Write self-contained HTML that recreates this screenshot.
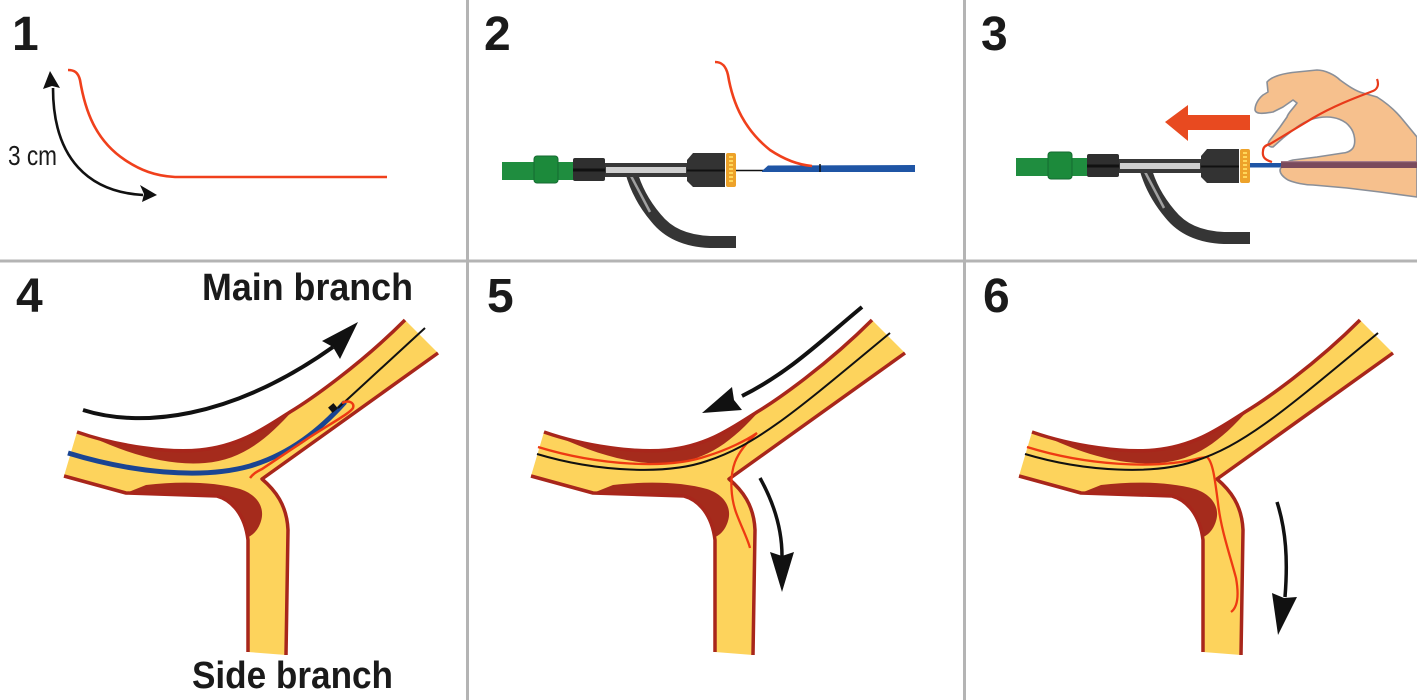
<!DOCTYPE html>
<html><head><meta charset="utf-8"><style>
html,body{margin:0;padding:0;background:#fff;}
svg{display:block;}
</style></head><body>
<svg width="1417" height="700" viewBox="0 0 1417 700" xmlns="http://www.w3.org/2000/svg" xmlns:xlink="http://www.w3.org/1999/xlink">
<defs>
<g id="vessel">
  <path fill="#fdd35c" d="M77,432 C120,447 170,453 200,450 C240,446 265,428 290,412 C310,400 360,365 405,320 L438,353 L262,479 C275,490 287,505 288,530 L286,655 L248,652 L248,540 C245,515 232,500 217,496 L126,493 L64,476 Z"/>
  <path fill="#a52b1c" d="M92,437 C130,455 170,466 205,463 C240,460 265,442 294,409 L290,412 C265,428 240,446 200,450 C170,453 125,448 92,437 Z"/>
  <path fill="#a52b1c" d="M126,493 L146,485 C180,481 215,482 240,489 C258,495 265,508 261,521 C258,531 252,536 246,538 L248,538 C245,515 232,500 217,496 Z"/>
  <g fill="none" stroke="#a8261b" stroke-width="3.5" stroke-linejoin="round">
    <path d="M77,432 C120,447 170,453 200,450 C240,446 265,428 290,412 C310,400 360,365 405,320"/>
    <path d="M438,353 L262,479 C275,490 287,505 288,530 L286,655"/>
    <path d="M64,476 L126,493 L217,496 C232,500 245,515 248,540 L248,652"/>
  </g>
</g>
<g id="dev">
  <path d="M631,171 C636,190 645,205 656,218 C668,233 685,241 710,242 L736,242" stroke="#353535" stroke-width="12" fill="none"/>
  <path d="M630,174 L650,212" stroke="#a0a0a0" stroke-width="2.5" fill="none"/>
  <rect x="502" y="162" width="73" height="18" fill="#1f8d3f"/>
  <rect x="534" y="156" width="24" height="27" rx="3" fill="#1c8a3b" stroke="#156a30" stroke-width="1"/>
  <rect x="604" y="163" width="84" height="14" fill="#383838"/>
  <rect x="606" y="167" width="80" height="6" fill="#cfcfcf"/>
  <rect x="573" y="158" width="32" height="23" rx="2" fill="#2f2f2f"/>
  <rect x="573" y="168.5" width="32" height="3" fill="#111"/>
  <path d="M687,160 L693,153 L725,153 L725,187 L693,187 L687,181 Z" fill="#333"/>
  <rect x="687" y="169.5" width="38" height="2" fill="#111"/>
  <rect x="726" y="153" width="10" height="34" rx="2" fill="#eda22a"/>
  <g fill="#ffd75a">
    <rect x="729" y="156" width="4" height="2"/><rect x="729" y="160" width="4" height="2"/>
    <rect x="729" y="164" width="4" height="2"/><rect x="729" y="168" width="4" height="2"/>
    <rect x="729" y="172" width="4" height="2"/><rect x="729" y="176" width="4" height="2"/>
    <rect x="729" y="180" width="4" height="2"/>
  </g>
</g>
</defs>

<!-- grid -->
<rect x="466" y="0" width="3" height="700" fill="#b4b4b4"/>
<rect x="963" y="0" width="3" height="700" fill="#b4b4b4"/>
<rect x="0" y="259.5" width="1417" height="3" fill="#b4b4b4"/>

<!-- numbers -->
<g font-family="'Liberation Sans', Arial, sans-serif" font-weight="bold" font-size="48" fill="#1a1a1a">
  <text x="12" y="50">1</text>
  <text x="484" y="50">2</text>
  <text x="981" y="50">3</text>
  <text x="16" y="312">4</text>
  <text x="487" y="312">5</text>
  <text x="983" y="312">6</text>
</g>

<!-- panel 1 -->
<path d="M68,70 C74,70 78,72 80,80 C85,110 95,140 125,160 C140,170 155,176 175,177 L387,177" fill="none" stroke="#f0401c" stroke-width="2.6"/>
<path d="M53,88 C53,160 90,192 143,195" fill="none" stroke="#111" stroke-width="2.6"/>
<polygon points="50,71 60,88 52,86 43,89" fill="#111"/>
<polygon points="157,195 142,202 144,194 140,185" fill="#111"/>
<text x="8" y="165" font-family="'Liberation Sans Narrow','Liberation Sans',sans-serif" font-size="28" fill="#1a1a1a" textLength="49" lengthAdjust="spacingAndGlyphs">3 cm</text>

<!-- panel 2 -->
<use xlink:href="#dev"/>
<line x1="736" y1="170.5" x2="764" y2="170.5" stroke="#111" stroke-width="1.5"/>
<path d="M762,171 L768,165.5 L915,165 L915,172 L762,172 Z" fill="#1f55a5"/>
<line x1="820" y1="164" x2="820" y2="172" stroke="#111" stroke-width="1.5"/>
<path d="M715,62 C722,62 726,66 728,75 C733,105 745,130 770,150 C785,160 800,165 812,166" fill="none" stroke="#f0401c" stroke-width="2.6"/>

<!-- panel 3 -->
<g transform="translate(514,-4)"><use xlink:href="#dev"/></g>
<rect x="1250" y="163" width="35" height="4.5" fill="#1f55a5"/>
<rect x="1188" y="115" width="62" height="15" fill="#e84a20"/>
<polygon points="1165,122 1188,105 1188,141" fill="#e84a20"/>
<path d="M1417,137 L1403,120 C1395,110 1385,102 1377,97 L1363,93 C1355,91 1347,85 1340,80 C1335,75 1325,70 1317,70 L1297,72 C1285,73 1272,76 1267,82 L1268,92 L1263,95 C1258,99 1255,105 1255,110 C1256,114 1262,114 1273,112 L1283,107 L1293,100 L1297,103 C1292,110 1288,113 1287,117 L1280,127 L1270,140 C1267,144 1268,147 1273,147 L1283,138 L1297,127 C1305,121 1315,117 1327,117 C1335,117 1345,120 1350,127 C1355,133 1356,143 1353,148 C1350,152 1345,153 1343,153 L1317,157 L1293,160 C1285,162 1281,166 1280,170 C1280,174 1283,177 1288,180 C1295,183 1305,185 1313,185 L1347,188 L1380,192 L1417,197 Z" fill="#f6c08d" stroke="#8a8f98" stroke-width="1.6" stroke-linejoin="round"/>
<rect x="1281" y="161" width="136" height="7" fill="#7a4a5c"/>
<rect x="1281" y="161" width="136" height="1.2" fill="#a57a88"/>
<path d="M1272,162 C1265,160 1262,157 1263,151 C1263,147 1266,145 1270,144 L1313,118 C1335,105 1360,96 1373,91 C1378,89 1379,84 1377,79" fill="none" stroke="#e83a1a" stroke-width="2.2"/>

<!-- panel 4 -->
<use xlink:href="#vessel"/>
<path d="M68,453 C130,472 200,480 250,466 C290,454 320,430 345,402" fill="none" stroke="#1a4593" stroke-width="5"/>
<path d="M338,408 L425,328" fill="none" stroke="#111" stroke-width="2"/>
<path d="M250,478 C253,474 256,472 262,469 L310,437 C335,421 350,413 353,408 C355,402 348,400 342,403" fill="none" stroke="#ee3a12" stroke-width="2.5"/>
<rect x="329.5" y="404.5" width="7" height="7" fill="#111" transform="rotate(-40 333 408)"/>
<path d="M83,410 C140,428 230,420 333,347" fill="none" stroke="#111" stroke-width="4"/>
<polygon points="358,322 340,359 333,347 322,341" fill="#111"/>
<g font-family="'Liberation Sans Narrow','Liberation Sans',sans-serif" font-weight="bold" font-size="38" fill="#1a1a1a">
  <text x="202" y="300" textLength="211" lengthAdjust="spacingAndGlyphs">Main branch</text>
  <text x="192" y="688" textLength="201" lengthAdjust="spacingAndGlyphs">Side branch</text>
</g>

<!-- panel 5 -->
<g transform="translate(467,0)">
  <use xlink:href="#vessel"/>
  <path d="M71,447 C130,465 200,470 240,456 C260,450 280,440 290,433 C280,442 272,452 268,462 C262,478 264,500 270,515 C275,528 281,540 283,548" fill="none" stroke="#ee3a12" stroke-width="2.3"/>
  <path d="M70,454 C130,472 200,475 240,461 C290,445 330,410 423,333" fill="none" stroke="#111" stroke-width="2"/>
</g>
<path d="M862,307 C822,340 790,372 742,396" fill="none" stroke="#111" stroke-width="4"/>
<polygon points="702,413 732,387 734,400 742,410" fill="#111"/>
<path d="M760,478 C775,505 782,530 782,556" fill="none" stroke="#111" stroke-width="3.5"/>
<polygon points="782,592 770,552 782,556 794,552" fill="#111"/>

<!-- panel 6 -->
<g transform="translate(955,0)">
  <use xlink:href="#vessel"/>
  <path d="M72,447 C130,465 200,470 245,458 L252,457 C258,462 260,480 263,503 C266,530 275,555 281,578 C284,595 283,607 276,612" fill="none" stroke="#ee3a12" stroke-width="2.3"/>
  <path d="M70,454 C130,472 200,475 240,461 C290,445 330,410 423,333" fill="none" stroke="#111" stroke-width="2"/>
</g>
<path d="M1277,502 C1286,530 1288,560 1285,597" fill="none" stroke="#111" stroke-width="3.5"/>
<polygon points="1278,635 1272,593 1284,598 1297,597" fill="#111"/>
</svg>
</body></html>
